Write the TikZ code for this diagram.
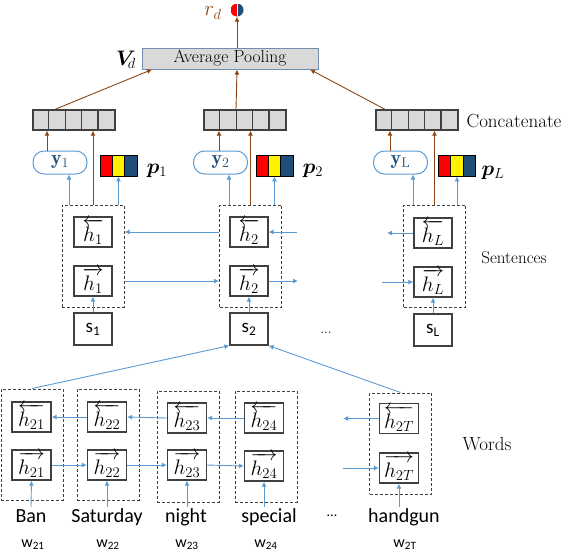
\RequirePackage{fix-cm}
\documentclass[tikz,border=0pt]{standalone}
\usepackage{amsmath,bm}
\usepackage{fontspec}
\setsansfont{Carlito}
\usetikzlibrary{arrows.meta}

\definecolor{lineblue}{HTML}{5B9BD5}
\definecolor{rust}{HTML}{8B4513}
\definecolor{cellgray}{HTML}{D9D9D9}
\definecolor{navy}{HTML}{1F4E79}
\definecolor{boxedge}{HTML}{404040}
\definecolor{pooledge}{HTML}{6F8FAF}

\tikzset{
  hbox/.style={draw=boxedge, line width=1.3pt, minimum width=38pt, minimum height=30pt, inner sep=0pt, font=\fontsize{21}{21}\selectfont},
  sbox/.style={draw=boxedge, line width=1.3pt, minimum width=38pt, minimum height=32pt, inner sep=0pt, font=\sffamily\fontsize{19}{19}\selectfont},
  dbox/.style={draw=boxedge, dash pattern=on 3pt off 2pt, line width=1pt, minimum width=62pt, inner sep=0pt},
  ybox/.style={draw=lineblue, line width=1pt, rounded corners=11pt, minimum width=54pt, minimum height=23pt, inner sep=0pt, text=navy, font=\fontsize{20}{20}\selectfont},
  catbox/.style={draw=boxedge, fill=cellgray, line width=1.3pt, minimum width=82pt, minimum height=20pt, inner sep=0pt},
  pcell/.style={draw=black, line width=0.8pt, minimum width=12.3pt, minimum height=21pt, inner sep=0pt},
  barrow/.style={draw=lineblue, line width=0.9pt, -{Latex[length=5pt,width=5pt]}},
  rarrow/.style={draw=rust, line width=0.9pt, -{Latex[length=5pt,width=5pt]}},
  word/.style={font=\sffamily\fontsize{20}{20}\selectfont, text height=14pt, text depth=4pt, inner sep=1pt},
  wlabel/.style={font=\sffamily\fontsize{16}{16}\selectfont, anchor=base},
  tag/.style={font=\fontsize{18}{18}\selectfont},
  mathtag/.style={font=\fontsize{21}{21}\selectfont}
}

% concatenation vector of five cells
\newcommand{\catvec}[3]{%
  \node[catbox] (#1) at (#2,#3) {};
  \foreach \k in {1,...,4}
    \draw[boxedge, line width=1.3pt] ([xshift=\k*16.4pt]#1.north west) -- ([xshift=\k*16.4pt]#1.south west);
}
% three-colour bar for p
\newcommand{\pbar}[3]{%
  \node[pcell, fill=red] (#1r) at (#2-12.3,#3) {};
  \node[pcell, fill=yellow] (#1y) at (#2,#3) {};
  \node[pcell, fill=navy] (#1b) at (#2+12.3,#3) {};
}

\begin{document}
\begin{tikzpicture}[x=1pt, y=-1pt]
\useasboundingbox (0,0) rectangle (564,550);

% top
\node[circle, minimum size=13pt, inner sep=0pt, path picture={
  \fill[red] (path picture bounding box.south west) rectangle (path picture bounding box.north);
  \fill[navy] (path picture bounding box.north) rectangle (path picture bounding box.south east);
  \draw[white, line width=1pt] (path picture bounding box.north) -- (path picture bounding box.south);}] (rdot) at (237,10) {};
\node[mathtag, text=rust] (rd) at (213,13) {$r_d$};
\node[draw=pooledge, fill=cellgray, line width=1pt, minimum width=176pt, minimum height=21pt, inner sep=0pt, font=\fontsize{17.5}{17.5}\selectfont] (pool) at (230,58.5) {Average Pooling};
\node[mathtag, inner sep=1pt] (vd) at (126,60) {$\bm{V}_{\!d}$};
\draw[rarrow] ([xshift=7pt]pool.north) -- (rdot.south);

% concatenation
\catvec{cc1}{74}{120}
\catvec{cc2}{245}{120}
\catvec{cc3}{417}{120}
\node[tag, font=\fontsize{19}{19}\selectfont] (cat) at (514,121) {Concatenate};
\draw[rarrow] ([xshift=-19pt]cc1.north) -- ([xshift=-78pt]pool.south);
\draw[rarrow] ([xshift=-9pt]cc2.north) -- ([xshift=7pt]pool.south);
\draw[rarrow] ([xshift=-32pt]cc3.north) -- ([xshift=80pt]pool.south);

% y and p
\node[ybox] (y1) at (60,162.5) {$\mathbf{y}_1$};
\node[ybox] (y2) at (220.5,162.5) {$\mathbf{y}_2$};
\node[ybox] (yL) at (400.5,162.5) {$\mathbf{y}_{\mathrm{L}}$};
\pbar{pb1}{118.5}{165.5}
\pbar{pb2}{274.5}{165.5}
\pbar{pbL}{457}{165.5}
\node[mathtag] (p1) at (157,171) {$\bm{p}_1$};
\node[mathtag] (p2) at (313,171) {$\bm{p}_2$};
\node[mathtag] (pL) at (493,173) {$\bm{p}_L$};

% sentences
\node[dbox, minimum height=102pt] (ds1) at (93,256) {};
\node[dbox, minimum height=102pt] (ds2) at (250.5,256) {};
\node[dbox, minimum height=102pt] (dsL) at (434.5,256) {};
\node[hbox] (hb1) at (93,232) {$\overleftarrow{h_1}$};
\node[hbox] (hf1) at (93,281) {$\overrightarrow{h_1}$};
\node[hbox] (hb2) at (249,232) {$\overleftarrow{h_2}$};
\node[hbox] (hf2) at (249,281) {$\overrightarrow{h_2}$};
\node[hbox] (hbL) at (433,233) {$\overleftarrow{h_L}$};
\node[hbox] (hfL) at (433,282) {$\overrightarrow{h_L}$};
\node[sbox] (s1) at (93,329) {s\textsubscript{1}};
\node[sbox] (s2) at (249,329) {s\textsubscript{2}};
\node[sbox] (sL) at (433,330) {s\textsubscript{L}};
\node[font=\fontsize{14}{14}\selectfont] (sdots) at (326,333) {...};
\node[tag, font=\fontsize{17}{17}\selectfont] (sent) at (514,258) {Sentences};

\draw[barrow] (s1.north) -- (hf1.south);
\draw[barrow] (s2.north) -- (hf2.south);
\draw[barrow] (sL.north) -- (hfL.south);
\coordinate (sbr) at (297,232);
\coordinate (sbl) at (387,233);
\coordinate (sfr) at (298,281);
\coordinate (sfl) at (382,282);
\draw[barrow] (ds2.west |- hb2) -- (ds1.east |- hb1);
\draw[barrow] (sbr) -- (hb2.east);
\draw[barrow] (hbL.west) -- (sbl);
\draw[barrow] (ds1.east |- hf1) -- (ds2.west |- hf2);
\draw[barrow] (hf2.east) -- (sfr);
\draw[barrow] (sfl) -- (hfL.west);

% up to y, p and concatenation
\draw[barrow] ([xshift=-24pt]ds1.north) -- ([xshift=-24pt]ds1.north |- y1.south);
\draw[barrow] ([xshift=-21.5pt]ds2.north) -- ([xshift=-21.5pt]ds2.north |- y2.south);
\draw[barrow] ([xshift=-21.5pt]dsL.north) -- ([xshift=-21.5pt]dsL.north |- yL.south);
\draw[barrow] (pb1y.south |- ds1.north) -- (pb1y.south);
\draw[barrow] (pb2y.south |- ds2.north) -- (pb2y.south);
\draw[barrow] (pbLy.south |- dsL.north) -- (pbLy.south);
\draw[rarrow] ([xshift=-13pt]y1.north) -- ([xshift=-13pt]y1.north |- cc1.south);
\draw[rarrow] ([xshift=-1.5pt]y2.north) -- ([xshift=-1.5pt]y2.north |- cc2.south);
\draw[rarrow] ([xshift=-10.5pt]yL.north) -- ([xshift=-10.5pt]yL.north |- cc3.south);
\draw[rarrow] (ds1.north) -- (ds1.north |- cc1.south);
\draw[rarrow] (ds2.north) -- (ds2.north |- cc2.south);
\draw[rarrow] (dsL.north) -- (dsL.north |- cc3.south);

% words
\node[dbox, minimum height=111pt] (wd1) at (32,444.5) {};
\node[dbox, minimum height=111pt] (wd2) at (108,444.5) {};
\node[dbox, minimum height=111pt] (wd3) at (188,446.5) {};
\node[dbox, minimum height=111pt] (wd4) at (266,446.5) {};
\node[dbox, minimum height=101pt] (wd5) at (400.5,443.5) {};
\node[hbox, minimum width=39pt] (wb1) at (31.5,417) {$\overleftarrow{h_{21}}$};
\node[hbox, minimum width=39pt] (wf1) at (31.5,465) {$\overrightarrow{h_{21}}$};
\node[hbox, minimum width=39pt] (wb2) at (107,417) {$\overleftarrow{h_{22}}$};
\node[hbox, minimum width=39pt] (wf2) at (107,465) {$\overrightarrow{h_{22}}$};
\node[hbox, minimum width=39pt] (wb3) at (187,418) {$\overleftarrow{h_{23}}$};
\node[hbox, minimum width=39pt] (wf3) at (187,465) {$\overrightarrow{h_{23}}$};
\node[hbox, minimum width=39pt] (wb4) at (264,418) {$\overleftarrow{h_{24}}$};
\node[hbox, minimum width=39pt] (wf4) at (264,466) {$\overrightarrow{h_{24}}$};
\node[hbox, minimum width=39pt] (wb5) at (399,418.5) {$\overleftarrow{h_{2T}}$};
\node[hbox, minimum width=39pt] (wf5) at (399,468) {$\overrightarrow{h_{2T}}$};
\node[tag, font=\fontsize{19}{19}\selectfont] (wordstag) at (487,444) {Words};

\draw[barrow] (wb2.west) -- (wb1.east);
\draw[barrow] (wb3.west) -- (wb2.east);
\draw[barrow] (wb4.west) -- (wb3.east);
\coordinate (wbT) at (343,418.5);
\draw[barrow] (wb5.west) -- (wbT);
\draw[barrow] (wf1.east) -- (wf2.west);
\draw[barrow] (wf2.east) -- (wf3.west);
\draw[barrow] (wf3.east) -- (wf4.west);
\coordinate (wfT) at (343,468);
\draw[barrow] (wfT) -- (wf5.west);

\draw[barrow] (wd1.north) -- (s2.south west);
\draw[barrow] (wd5.north) -- (s2.south east);

% input words
\node[word] (wt1) at (31,517) {Ban};
\node[word] (wt2) at (107,517) {Saturday};
\node[word] (wt3) at (186,517) {night};
\node[word] (wt4) at (269,517) {special};
\node[font=\sffamily\fontsize{14}{14}\selectfont] (wdots) at (332,516) {...};
\node[word] (wt5) at (404,517) {handgun};
\node[wlabel] (wl1) at (33,547) {w\textsubscript{21}};
\node[wlabel] (wl2) at (108,547) {w\textsubscript{22}};
\node[wlabel] (wl3) at (187,547) {w\textsubscript{23}};
\node[wlabel] (wl4) at (266,547) {w\textsubscript{24}};
\node[wlabel] (wl5) at (405,547) {w\textsubscript{2T}};
\draw[barrow] (wt1.north) -- (wf1.south);
\draw[barrow] (wt2.north) -- (wf2.south);
\draw[barrow] (wf3.south |- wt3.north) -- (wf3.south);
\draw[barrow] (wf4.south |- wt4.north) -- (wf4.south);
\draw[barrow] (wf5.south |- wt5.north) -- (wf5.south);
\end{tikzpicture}
\end{document}
